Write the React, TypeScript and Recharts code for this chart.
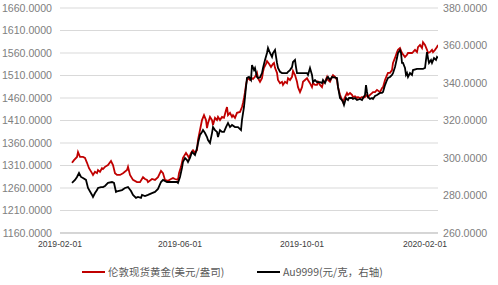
import React from "react";
import { LineChart, Line, XAxis, YAxis, CartesianGrid } from "recharts";

const xTickLabels = ["2019-02-01", "2019-06-01", "2019-10-01", "2020-02-01"];
const xEnd = "2020-02-14";
const leftTicks = [1160, 1210, 1260, 1310, 1360, 1410, 1460, 1510, 1560, 1610, 1660];
const rightTicks = [260, 280, 300, 320, 340, 360, 380];

const seriesRedName = "伦敦现货黄金(美元/盎司)";
const seriesBlackName = "Au9999(元/克，右轴)";

const redDates = [
  "2019-02-13","2019-02-15","2019-02-18","2019-02-19","2019-02-21","2019-02-24","2019-02-26","2019-02-28",
  "2019-03-02","2019-03-05","2019-03-06","2019-03-08","2019-03-10","2019-03-11","2019-03-13","2019-03-15",
  "2019-03-16","2019-03-18","2019-03-21","2019-03-24","2019-03-26","2019-03-28","2019-03-30",
  "2019-04-02","2019-04-05","2019-04-09","2019-04-10","2019-04-12","2019-04-15","2019-04-19","2019-04-22",
  "2019-04-25","2019-04-27","2019-04-29","2019-04-30",
  "2019-05-04","2019-05-07","2019-05-10","2019-05-13","2019-05-15","2019-05-17","2019-05-20","2019-05-23",
  "2019-05-25","2019-05-27","2019-05-30","2019-05-31",
  "2019-06-02","2019-06-04","2019-06-07","2019-06-09","2019-06-10","2019-06-12","2019-06-14","2019-06-16",
  "2019-06-18","2019-06-19","2019-06-21","2019-06-23","2019-06-25","2019-06-27","2019-06-28","2019-06-29",
  "2019-07-01","2019-07-03","2019-07-04","2019-07-06","2019-07-08","2019-07-09","2019-07-11","2019-07-13",
  "2019-07-15","2019-07-17","2019-07-18","2019-07-19","2019-07-21","2019-07-23","2019-07-24","2019-07-26",
  "2019-07-28","2019-07-31",
  "2019-08-02","2019-08-03","2019-08-04","2019-08-05","2019-08-06","2019-08-07","2019-08-08","2019-08-10",
  "2019-08-12","2019-08-13","2019-08-15","2019-08-17","2019-08-18","2019-08-20","2019-08-22","2019-08-23",
  "2019-08-24","2019-08-26","2019-08-27","2019-08-29","2019-08-31",
  "2019-09-02","2019-09-03","2019-09-04","2019-09-06","2019-09-07","2019-09-09","2019-09-11","2019-09-12",
  "2019-09-14","2019-09-16","2019-09-17","2019-09-19","2019-09-21","2019-09-22","2019-09-24","2019-09-26",
  "2019-09-27","2019-09-29",
  "2019-10-01","2019-10-02","2019-10-04","2019-10-06","2019-10-07","2019-10-09","2019-10-11","2019-10-12",
  "2019-10-14","2019-10-16","2019-10-17","2019-10-19","2019-10-21","2019-10-22","2019-10-24","2019-10-26",
  "2019-10-27","2019-10-29","2019-10-31",
  "2019-11-01","2019-11-03","2019-11-05","2019-11-06","2019-11-08","2019-11-10","2019-11-11","2019-11-13",
  "2019-11-15","2019-11-16","2019-11-18","2019-11-20","2019-11-21","2019-11-23","2019-11-25","2019-11-26",
  "2019-11-28","2019-11-30",
  "2019-12-01","2019-12-03","2019-12-05","2019-12-06","2019-12-08","2019-12-10","2019-12-11","2019-12-13",
  "2019-12-15","2019-12-18","2019-12-20","2019-12-21","2019-12-23","2019-12-25","2019-12-26","2019-12-28",
  "2019-12-30","2019-12-31",
  "2020-01-02","2020-01-04","2020-01-05","2020-01-07","2020-01-09","2020-01-12","2020-01-14","2020-01-15",
  "2020-01-19","2020-01-20","2020-01-22","2020-01-24","2020-01-25","2020-01-27","2020-01-29","2020-01-30",
  "2020-02-01","2020-02-03","2020-02-04","2020-02-06","2020-02-08","2020-02-09","2020-02-11","2020-02-13",
  "2020-02-14",
];
const redValues = [
  1316,1322,1329,1340,1329,1329,1327,1316,
  1304,1293,1289,1296,1293,1300,1296,1304,
  1302,1307,1311,1320,1311,1293,1289,
  1289,1293,1300,1307,1289,1278,1273,1273,
  1284,1280,1278,1273,
  1280,1278,1284,1298,1293,1278,1276,1280,
  1282,1280,1278,1293,
  1307,1327,1338,1331,1327,1338,1344,1338,
  1344,1367,1389,1411,1422,1411,1393,1404,
  1418,1411,1400,1416,1411,1418,1411,1418,
  1416,1433,1440,1422,1427,1418,1422,1416,
  1427,1429,
  1440,1449,1460,1473,1489,1500,1504,1500,
  1504,1502,1507,1516,1504,1496,1504,1518,
  1527,1536,1542,1536,1529,
  1536,1538,1527,1516,1500,1493,1496,1489,
  1496,1493,1504,1500,1507,1520,1511,1496,
  1484,1473,
  1484,1496,1500,1504,1500,1493,1484,1493,
  1489,1489,1496,1489,1484,1493,1496,1507,
  1500,1496,1507,
  1511,1507,1500,1484,1467,1456,1451,1462,
  1471,1467,1471,1467,1462,1464,1460,1462,
  1460,1462,
  1460,1462,1467,1462,1467,1471,1473,1473,
  1478,1473,1482,1484,1500,1511,1516,1516,
  1522,1538,
  1549,1562,1567,1571,1560,1551,1556,1560,
  1560,1562,1567,1562,1573,1578,1571,1584,
  1578,1567,1560,1562,1567,1562,1567,1573,
  1578,
];

const blackDates = [
  "2019-02-13","2019-02-16","2019-02-18","2019-02-20","2019-02-22","2019-02-24","2019-02-27",
  "2019-03-01","2019-03-05","2019-03-06","2019-03-08","2019-03-10","2019-03-11","2019-03-14","2019-03-16",
  "2019-03-18","2019-03-21","2019-03-25","2019-03-27","2019-03-29","2019-03-31",
  "2019-04-04","2019-04-07","2019-04-10","2019-04-13","2019-04-15","2019-04-18","2019-04-20","2019-04-23",
  "2019-04-24","2019-04-27","2019-04-30",
  "2019-05-04","2019-05-07","2019-05-10","2019-05-13","2019-05-15","2019-05-19","2019-05-22","2019-05-25",
  "2019-05-29","2019-05-30",
  "2019-06-01","2019-06-03","2019-06-04","2019-06-06","2019-06-08","2019-06-09","2019-06-11","2019-06-13",
  "2019-06-14","2019-06-16","2019-06-18","2019-06-19","2019-06-21","2019-06-23","2019-06-24","2019-06-26",
  "2019-06-28","2019-06-29",
  "2019-07-01","2019-07-03","2019-07-04","2019-07-06","2019-07-08","2019-07-09","2019-07-11","2019-07-13",
  "2019-07-15","2019-07-17","2019-07-19","2019-07-21","2019-07-23","2019-07-26","2019-07-29",
  "2019-08-01","2019-08-02","2019-08-04","2019-08-05","2019-08-06","2019-08-07","2019-08-09","2019-08-11",
  "2019-08-12","2019-08-14","2019-08-15","2019-08-17","2019-08-18","2019-08-20","2019-08-22","2019-08-23",
  "2019-08-25","2019-08-27","2019-08-28","2019-08-30",
  "2019-09-01","2019-09-02","2019-09-04","2019-09-06","2019-09-07","2019-09-09","2019-09-11","2019-09-16",
  "2019-09-17","2019-09-19","2019-09-21","2019-09-22","2019-09-24","2019-09-25","2019-09-26","2019-09-29",
  "2019-10-03","2019-10-06","2019-10-07","2019-10-09","2019-10-11","2019-10-12","2019-10-14","2019-10-16",
  "2019-10-19","2019-10-21","2019-10-22","2019-10-24","2019-10-26","2019-10-27","2019-10-29","2019-10-31",
  "2019-11-05","2019-11-06","2019-11-08","2019-11-10","2019-11-11","2019-11-12","2019-11-14","2019-11-16",
  "2019-11-17","2019-11-20","2019-11-21","2019-11-23","2019-11-25","2019-11-28","2019-11-30",
  "2019-12-01","2019-12-03","2019-12-04","2019-12-05","2019-12-06","2019-12-08","2019-12-10","2019-12-11",
  "2019-12-13","2019-12-15","2019-12-18","2019-12-20","2019-12-21","2019-12-23","2019-12-25","2019-12-26",
  "2019-12-28","2019-12-30","2019-12-31",
  "2020-01-02","2020-01-04","2020-01-05","2020-01-07","2020-01-08","2020-01-09","2020-01-10","2020-01-12",
  "2020-01-13","2020-01-14","2020-01-15","2020-01-17","2020-01-19","2020-01-20","2020-01-24","2020-01-27",
  "2020-01-30",
  "2020-02-01","2020-02-02","2020-02-03","2020-02-04","2020-02-05","2020-02-07","2020-02-08","2020-02-10",
  "2020-02-12","2020-02-13","2020-02-14",
];
const blackValues = [
  286.7,288.3,289.9,292.0,289.9,289.3,288.3,
  284.0,280.3,279.2,281.3,282.9,284.0,284.5,284.5,
  285.1,286.7,287.2,286.7,281.9,282.4,
  282.9,284.0,284.5,282.4,280.3,278.7,279.2,278.7,
  280.3,279.7,280.3,
  281.3,281.9,283.5,287.2,288.3,287.2,287.2,287.2,
  287.2,286.7,
  289.9,294.7,297.9,300.0,298.9,297.9,300.0,303.2,
  302.7,301.6,305.3,308.0,312.3,313.9,314.9,313.3,
  311.2,309.6,
  308.0,313.3,316.5,314.9,313.9,311.2,314.9,313.9,
  313.9,316.5,318.7,316.5,317.6,316.5,316.5,
  314.9,320.3,327.2,332.5,337.9,342.7,343.2,341.6,
  349.6,346.9,348.0,343.2,342.7,343.0,345.3,348.0,
  352.3,356.0,358.7,356.0,
  353.9,356.0,357.6,350.7,348.0,346.0,345.3,345.3,
  345.9,346.9,348.5,351.2,352.3,348.5,345.3,345.3,
  345.3,345.3,344.3,348.0,344.3,340.5,341.6,340.5,
  340.5,340.0,341.6,340.0,342.7,343.2,341.6,343.2,
  342.7,337.9,332.0,330.9,329.9,328.3,332.0,330.9,
  332.0,332.0,331.5,332.0,330.9,331.5,330.9,
  332.0,333.6,338.9,335.2,332.5,331.5,332.0,331.5,
  333.1,333.6,334.7,334.7,335.2,338.9,341.6,342.7,
  343.2,344.3,345.3,
  348.5,353.3,356.0,357.5,356.0,350.7,350.7,348.0,
  344.3,345.3,343.2,345.3,344.3,346.9,347.5,347.5,
  347.5,
  348.0,352.3,356.5,353.3,350.7,352.3,350.7,353.3,
  352.3,353.9,353.3,
];

const DAY = 86400000;
const origin = Date.parse(xTickLabels[0] + "T00:00:00Z");
const dayOf = (s: string) => Math.round((Date.parse(s + "T00:00:00Z") - origin) / DAY);

const redData = redDates.map((d, i) => ({ t: dayOf(d), v: redValues[i] }));
const blackData = blackDates.map((d, i) => ({ t: dayOf(d), v: blackValues[i] }));
const xTicks = xTickLabels.map(dayOf);
const xDomain = [0, dayOf(xEnd)];

const FONT = "'Liberation Sans', Arial, sans-serif";

export default function App() {
  return (
    <div style={{ position: "absolute", left: 0, top: 0, width: 498, height: 285, background: "#fff" }}>
      <LineChart
        width={498}
        height={285}
        margin={{ top: 8, right: 0, bottom: 32, left: 0 }}
      >
        <CartesianGrid yAxisId="left" vertical={false} stroke="#d9d9d9" strokeWidth={1} />
        <XAxis
          type="number"
          dataKey="t"
          domain={xDomain}
          ticks={xTicks}
          tickFormatter={(v: number) => xTickLabels[xTicks.indexOf(v)] ?? ""}
          tickLine={false}
          axisLine={{ stroke: "#bfbfbf" }}
          tick={{ fill: "#404040", fontSize: 8.6, fontFamily: FONT }}
          height={20}
          allowDataOverflow
          interval={0}
        />
        <YAxis
          yAxisId="left"
          orientation="left"
          domain={[1160, 1660]}
          ticks={leftTicks}
          tickFormatter={(v: number) => v.toFixed(4)}
          tickLine={false}
          axisLine={false}
          width={60}
          tick={{ fill: "#808080", fontSize: 10.6, fontFamily: FONT }}
          interval={0}
        />
        <YAxis
          yAxisId="right"
          orientation="right"
          domain={[260, 380]}
          ticks={rightTicks}
          tickFormatter={(v: number) => v.toFixed(4)}
          tickLine={false}
          axisLine={false}
          width={60}
          tickSize={3}
          tick={{ fill: "#808080", fontSize: 10.6, fontFamily: FONT }}
          interval={0}
        />
        <Line
          yAxisId="left"
          data={redData}
          dataKey="v"
          name={seriesRedName}
          type="linear"
          stroke="#c00000"
          strokeWidth={1.8}
          dot={false}
          isAnimationActive={false}
        />
        <Line
          yAxisId="right"
          data={blackData}
          dataKey="v"
          name={seriesBlackName}
          type="linear"
          stroke="#000000"
          strokeWidth={1.8}
          dot={false}
          isAnimationActive={false}
        />
      </LineChart>
      <div style={{ position: "absolute", left: 0, top: 263, width: 498, height: 18, fontFamily: "'Noto Sans CJK SC', 'Liberation Sans', sans-serif", fontSize: 10.5, color: "#595959" }}>
        <div style={{ position: "absolute", left: 82, top: 8, width: 23, height: 2, background: "#c00000" }} />
        <div style={{ position: "absolute", left: 108, top: 0, lineHeight: "18px", whiteSpace: "nowrap" }}>{seriesRedName}</div>
        <div style={{ position: "absolute", left: 257, top: 8, width: 23, height: 2, background: "#000000" }} />
        <div style={{ position: "absolute", left: 283, top: 0, lineHeight: "18px", whiteSpace: "nowrap" }}>{seriesBlackName}</div>
      </div>
    </div>
  );
}
